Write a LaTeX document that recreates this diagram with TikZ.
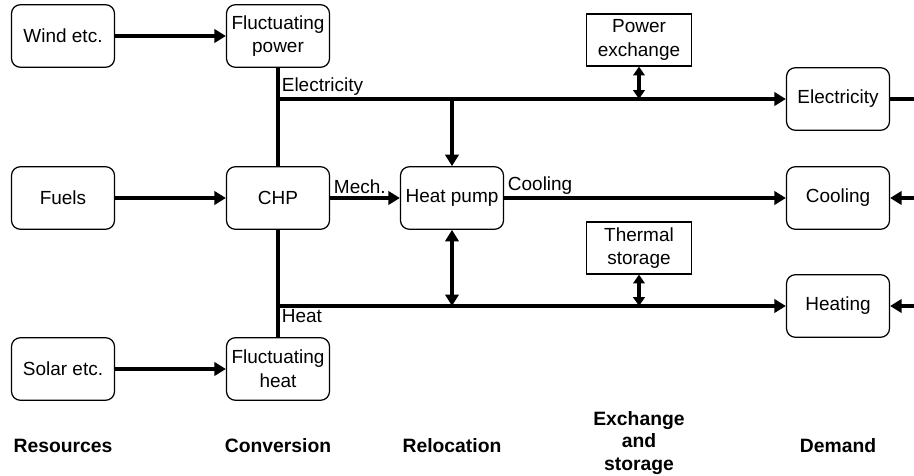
\documentclass[tikz,border=0pt]{standalone}
\usepackage{fontspec}
\setmainfont{Liberation Sans}
\usetikzlibrary{arrows.meta}

\tikzset{
  unit/.style={draw, rounded corners=5pt, line width=0.7pt, minimum width=2.06cm,
    minimum height=1.25cm, align=center, inner sep=1pt},
  store/.style={draw, line width=0.7pt, minimum width=2.1cm, minimum height=1.04cm,
    align=center, inner sep=1pt},
  pipe/.style={line width=2.2pt},
  flow/.style={pipe, -{Triangle[length=6.5pt,width=7.5pt]}},
  both/.style={pipe, {Triangle[length=6.5pt,width=7.5pt]}-{Triangle[length=6.5pt,width=7.5pt]}},
  swap/.style={pipe, {Triangle[length=5pt,width=6.5pt]}-{Triangle[length=5pt,width=6.5pt]}},
  lbl/.style={inner sep=2pt},
  stage/.style={font=\fontsize{11}{12.8}\selectfont\bfseries, align=center}
}

\begin{document}
\begin{tikzpicture}[x=0.02cm, y=-0.02cm, font=\fontsize{10.8}{13.5}\selectfont]
  \useasboundingbox (0,0) rectangle (914,476);

  % resources
  \node[unit] (wind) at (63,36) {Wind etc.};
  \node[unit] (fuel) at (63,198) {Fuels};
  \node[unit] (solar) at (63,369) {Solar etc.};

  % conversion
  \node[unit] (fpow) at (278,36) {Fluctuating\\power};
  \node[unit] (chp) at (278,198) {CHP};
  \node[unit] (fheat) at (278,369) {Fluctuating\\heat};

  % relocation, exchange and storage
  \node[unit] (hp) at (452,198) {Heat pump};
  \node[store] (pex) at (639,40) {Power\\exchange};
  \node[store] (tst) at (639,248) {Thermal\\storage};

  % demand
  \node[unit] (elec) at (838,99) {Electricity};
  \node[unit] (cool) at (838,198) {Cooling};
  \node[unit] (heat) at (838,306) {Heating};

  \coordinate (ej) at (fpow.south |- elec.west);
  \coordinate (hj) at (fheat.north |- heat.west);
  \coordinate (hpe) at (hp.north |- ej);
  \coordinate (hph) at (hp.south |- hj);
  \coordinate (pexe) at (pex.south |- ej);
  \coordinate (tsth) at (tst.south |- hj);
  \coordinate (eout) at (914,99);
  \coordinate (cin) at (914,198);
  \coordinate (hin) at (914,306);

  \draw[flow] (wind) -- (fpow);
  \draw[flow] (fuel) -- (chp);
  \draw[flow] (solar) -- (fheat);

  \draw[pipe] (fpow) -- (chp);
  \draw[pipe] (chp) -- (fheat);
  \draw[flow] (ej) -- (elec.west);
  \draw[flow] (hj) -- (heat.west);
  \node[lbl, above right] at (ej) {Electricity};
  \node[lbl, below right] at (hj) {Heat};

  \draw[flow] (chp) -- (hp);
  \node[lbl, above right] at (chp.east) {Mech.};
  \draw[flow] (hp) -- (cool);
  \node[lbl, above right] at (hp.east) {Cooling};
  \draw[flow] (hpe) -- (hp);
  \draw[both] (hp) -- (hph);

  \draw[swap] (pex) -- (pexe);
  \draw[swap] (tst) -- (tsth);

  \draw[pipe] (elec) -- (eout);
  \draw[flow] (cin) -- (cool);
  \draw[flow] (hin) -- (heat);

  % stage titles
  \node[stage] (s1) at (63,446) {Resources};
  \node[stage] (s2) at (278,446) {Conversion};
  \node[stage] (s3) at (452,446) {Relocation};
  \node[stage] (s4) at (639,443) {Exchange\\and\\storage};
  \node[stage] (s5) at (838,446) {Demand};
\end{tikzpicture}
\end{document}
